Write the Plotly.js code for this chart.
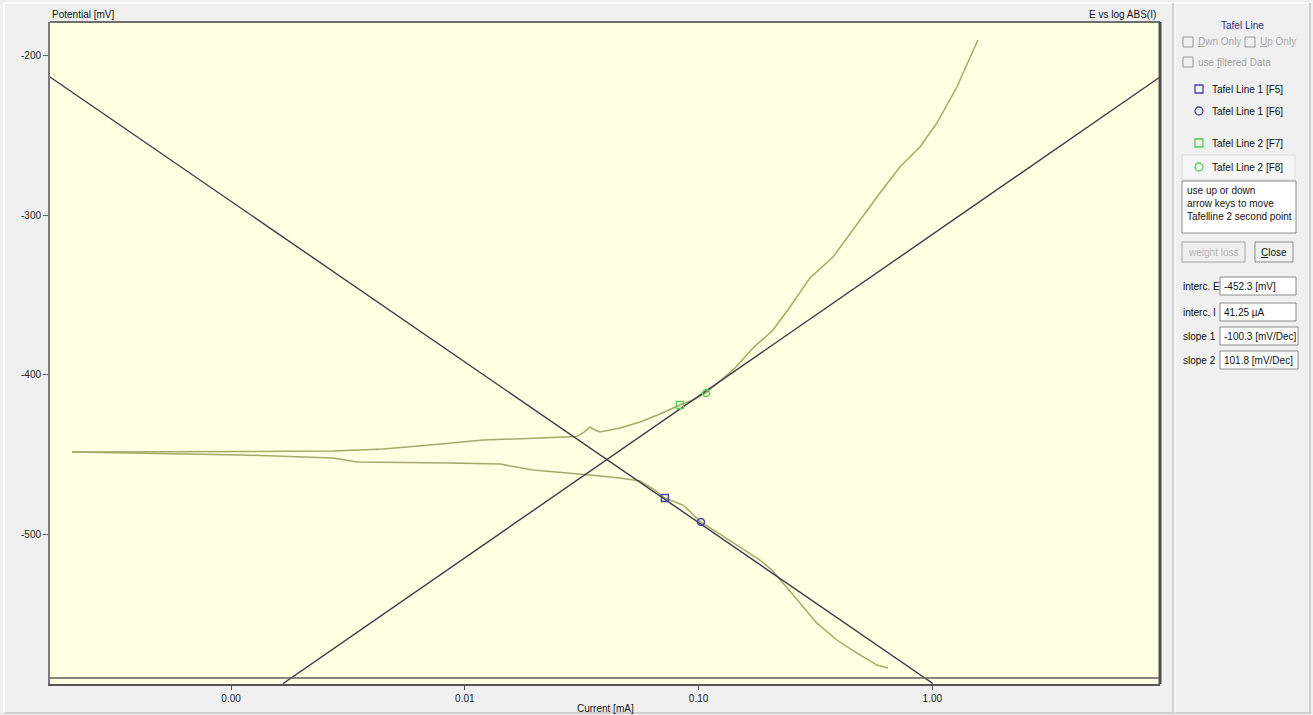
<!DOCTYPE html>
<html><head><meta charset="utf-8">
<script src="https://cdn.plot.ly/plotly-3.0.1.min.js"></script>
<style>html,body{margin:0;padding:0;background:#f0f0f0;overflow:hidden}</style>
</head><body><div id="chart" style="width:1313px;height:715px"></div>
<script>
// ---- data (current in mA, potential in mV) ----
const anodicI = [0.000209,0.000450,0.001206,0.00273,0.00447,0.00710,0.01196,0.02097,0.03019,0.03234,0.03431,0.03605,0.03787,0.04611,0.05615,0.06838,0.07772,0.0832,0.09462,0.1076,0.1235,0.1431,0.1709,0.2081,0.2460,0.2996,0.3757,0.4666,0.5970,0.7266,0.8851,1.046,1.274,1.567];
const anodicE = [-448.5,-448.5,-448.2,-447.9,-446.7,-444.1,-441.0,-439.8,-438.8,-436.0,-432.9,-434.7,-436.0,-433.5,-429.7,-424.7,-420.9,-419.0,-415.9,-411.5,-404.0,-395.8,-383.3,-372.0,-357.5,-339.3,-326.2,-307.3,-286.0,-269.7,-257.1,-242.1,-219.5,-190.0];
const cathodicI = [0.000209,0.000437,0.001125,0.00273,0.00346,0.00865,0.01414,0.01957,0.02818,0.03431,0.04611,0.05615,0.06509,0.0718,0.08576,0.1024,0.1235,0.1503,0.1830,0.2061,0.2296,0.2796,0.3209,0.3908,0.4759,0.5797,0.6459];
const cathodicE = [-448.5,-449.2,-450.4,-452.3,-454.8,-455.4,-456.1,-459.8,-461.7,-463.0,-464.9,-466.7,-472.4,-477.4,-481.8,-492.5,-500.0,-508.2,-516.3,-522.6,-530.8,-545.8,-555.9,-566.5,-574.7,-582.2,-584.1];
const tafel1I = [0.000168, 1.006];
const tafel1E = [-213.2, -593.8];
const tafel2I = [0.001669, 9.42];
const tafel2E = [-593.8, -213.2];
const tafel1PointsI = [0.0718, 0.1024];
const tafel1PointsE = [-477.4, -492.5];
const tafel2PointsI = [0.0832, 0.1076];
const tafel2PointsE = [-419.0, -411.5];
const xTickVals = [0.001, 0.01, 0.1, 1];
const xTickText = ['0.00', '0.01', '0.10', '1.00'];
const yTickVals = [-200, -300, -400, -500];
const yTickText = ['-200', '-300', '-400', '-500'];
const panelLabels = ['interc. E', 'interc. I', 'slope 1', 'slope 2'];
const panelValues = ['-452.3 [mV]', '41.25 \u00b5A', '-100.3 [mV/Dec]', '101.8 [mV/Dec]'];
const tafelItems = ['Tafel Line 1 [F5]', 'Tafel Line 1 [F6]', 'Tafel Line 2 [F7]', 'Tafel Line 2 [F8]'];

// ---- layout helpers (pixel -> paper) ----
const L = 50, R = 1160, T = 22, B = 684;
const X = px => (px - L) / (R - L);
const Y = py => (B - py) / (B - T);
const FONT = 'Liberation Sans, Arial, sans-serif';

const annotations = [];
const shapes = [];
function txt(px, py, text, o) {
  o = o || {};
  annotations.push({xref:'paper', yref:'paper', x:X(px), y:Y(py), text:text, showarrow:false,
    xanchor:o.xa || 'left', yanchor:o.ya || 'middle', align:o.align || 'left',
    font:{family:FONT, size:o.size || 10, color:o.color || '#111'}});
}
function rect(x0, y0, x1, y1, line, fill, w, type) {
  shapes.push({type:type || 'rect', xref:'paper', yref:'paper', x0:X(x0), x1:X(x1), y0:Y(y1), y1:Y(y0),
    line:{color:line, width:w === undefined ? 1 : w}, fillcolor:fill || 'rgba(0,0,0,0)', layer:'above'});
}
function hline(x0, x1, py, color, w) {
  shapes.push({type:'line', xref:'paper', yref:'paper', x0:X(x0), x1:X(x1), y0:Y(py), y1:Y(py), line:{color:color, width:w}, layer:'above'});
}
function vline(px, y0, y1, color, w) {
  shapes.push({type:'line', xref:'paper', yref:'paper', x0:X(px), x1:X(px), y0:Y(y0), y1:Y(y1), line:{color:color, width:w}, layer:'above'});
}

// window frames
hline(3, 1311, 3, '#fbfbfb', 2);
hline(3, 1311, 713, '#c4c4c4', 1.5);
vline(4, 3, 713, '#fbfbfb', 2);
vline(1173, 3, 713, '#c8c8c8', 1.5);
vline(1175, 3, 713, '#fbfbfb', 1);
vline(1310, 3, 713, '#c4c4c4', 1.5);

// plot frame
hline(L, R, T, '#6e6e6e', 2);
vline(R, T, B, '#4e4e4e', 3);
hline(L, R, 678, '#5e5e5e', 1.5);

// titles
txt(50, 15, 'Potential [mV]', {size:10});
txt(1158, 15, 'E vs log ABS(I)', {xa:'right', size:10});
txt(605, 708, 'Current [mA]', {xa:'center', size:10});

// right panel
txt(1242, 25, 'Tafel Line', {xa:'center', color:'#2a2a8c'});
rect(1183, 37, 1193, 47, '#9a9a9a', '#f0f0f0');
txt(1196, 42, '<u>D</u>wn Only', {color:'#a8a8a8'});
rect(1245, 37, 1255, 47, '#9a9a9a', '#f0f0f0');
txt(1258, 42, '<u>U</u>p Only', {color:'#a8a8a8'});
rect(1183, 57, 1193, 67, '#9a9a9a', '#f0f0f0');
txt(1196, 62, 'use <u>f</u>iltered Data', {color:'#a8a8a8'});

rect(1182, 155, 1295, 180, '#dadada', '#f6f6f6');
const itemY = [89, 111, 143, 167];
const itemColor = ['#4444a8', '#4444a8', '#55cc55', '#55cc55'];
const itemShape = ['rect', 'circle', 'rect', 'circle'];
for (let i = 0; i < tafelItems.length; i++) {
  rect(1195, itemY[i] - 4, 1203, itemY[i] + 4, itemColor[i], null, 1.3, itemShape[i]);
  txt(1210, itemY[i], tafelItems[i]);
}

rect(1182, 181, 1296, 233, '#8a8a8a', '#ffffff');
txt(1185, 183, 'use up or down<br>arrow keys to move<br>Tafelline 2 second point', {ya:'top'});

rect(1182, 242, 1245, 262, '#a6a6a6', '#f0f0f0');
txt(1213, 252, 'weight loss', {xa:'center', color:'#b4b4b4'});
rect(1255, 242, 1293, 262, '#8e8e8e', '#f0f0f0');
txt(1274, 252, '<u>C</u>lose', {xa:'center'});

const fieldY = [286, 312, 336, 360];
const fieldR = [1296, 1296, 1298, 1298];
for (let i = 0; i < panelLabels.length; i++) {
  txt(1181, fieldY[i], panelLabels[i]);
  rect(1220, fieldY[i] - 9, fieldR[i], fieldY[i] + 9, '#8a8a8a', '#ffffff');
  txt(1222, fieldY[i], panelValues[i]);
}

const curveColor = '#a7a86a';
const tafelColor = '#3b3b4a';
const traces = [
  {x:cathodicI, y:cathodicE, mode:'lines', line:{color:curveColor, width:1.5}, hoverinfo:'skip'},
  {x:anodicI, y:anodicE, mode:'lines', line:{color:curveColor, width:1.5}, hoverinfo:'skip'},
  {x:tafel1I, y:tafel1E, mode:'lines', line:{color:tafelColor, width:1.4}, hoverinfo:'skip'},
  {x:tafel2I, y:tafel2E, mode:'lines', line:{color:tafelColor, width:1.4}, hoverinfo:'skip'},
  {x:tafel1PointsI, y:tafel1PointsE, mode:'markers', marker:{symbol:['square-open','circle-open'], size:7, color:'#4646aa', line:{width:1.5}}, hoverinfo:'skip'},
  {x:tafel2PointsI, y:tafel2PointsE, mode:'markers', marker:{symbol:['square-open','circle-open'], size:7, color:'#5ad25a', line:{width:1.5}}, hoverinfo:'skip'}
];

const layout = {
  width:1313, height:715,
  margin:{l:L, r:1313 - R, t:T, b:715 - B, pad:0},
  paper_bgcolor:'#f0f0f0', plot_bgcolor:'#ffffe1',
  showlegend:false,
  font:{family:FONT, size:10, color:'#222'},
  xaxis:{type:'log', range:[Math.log10(0.000168), Math.log10(9.42)], tickmode:'array', tickvals:xTickVals, ticktext:xTickText,
    ticks:'outside', ticklen:4, tickcolor:'#555', showgrid:false, zeroline:false, showline:true, linecolor:'#555', linewidth:1.5,
    tickfont:{family:FONT, size:10, color:'#222'}},
  yaxis:{range:[-594.1, -178.7], tickmode:'array', tickvals:yTickVals, ticktext:yTickText,
    ticks:'outside', ticklen:5, tickcolor:'#666', showgrid:false, zeroline:false, showline:true, linecolor:'#7a7a7a', linewidth:2,
    tickfont:{family:FONT, size:10, color:'#222'}},
  annotations:annotations, shapes:shapes
};
Plotly.newPlot('chart', traces, layout, {displayModeBar:false, staticPlot:true});
</script></body></html>
